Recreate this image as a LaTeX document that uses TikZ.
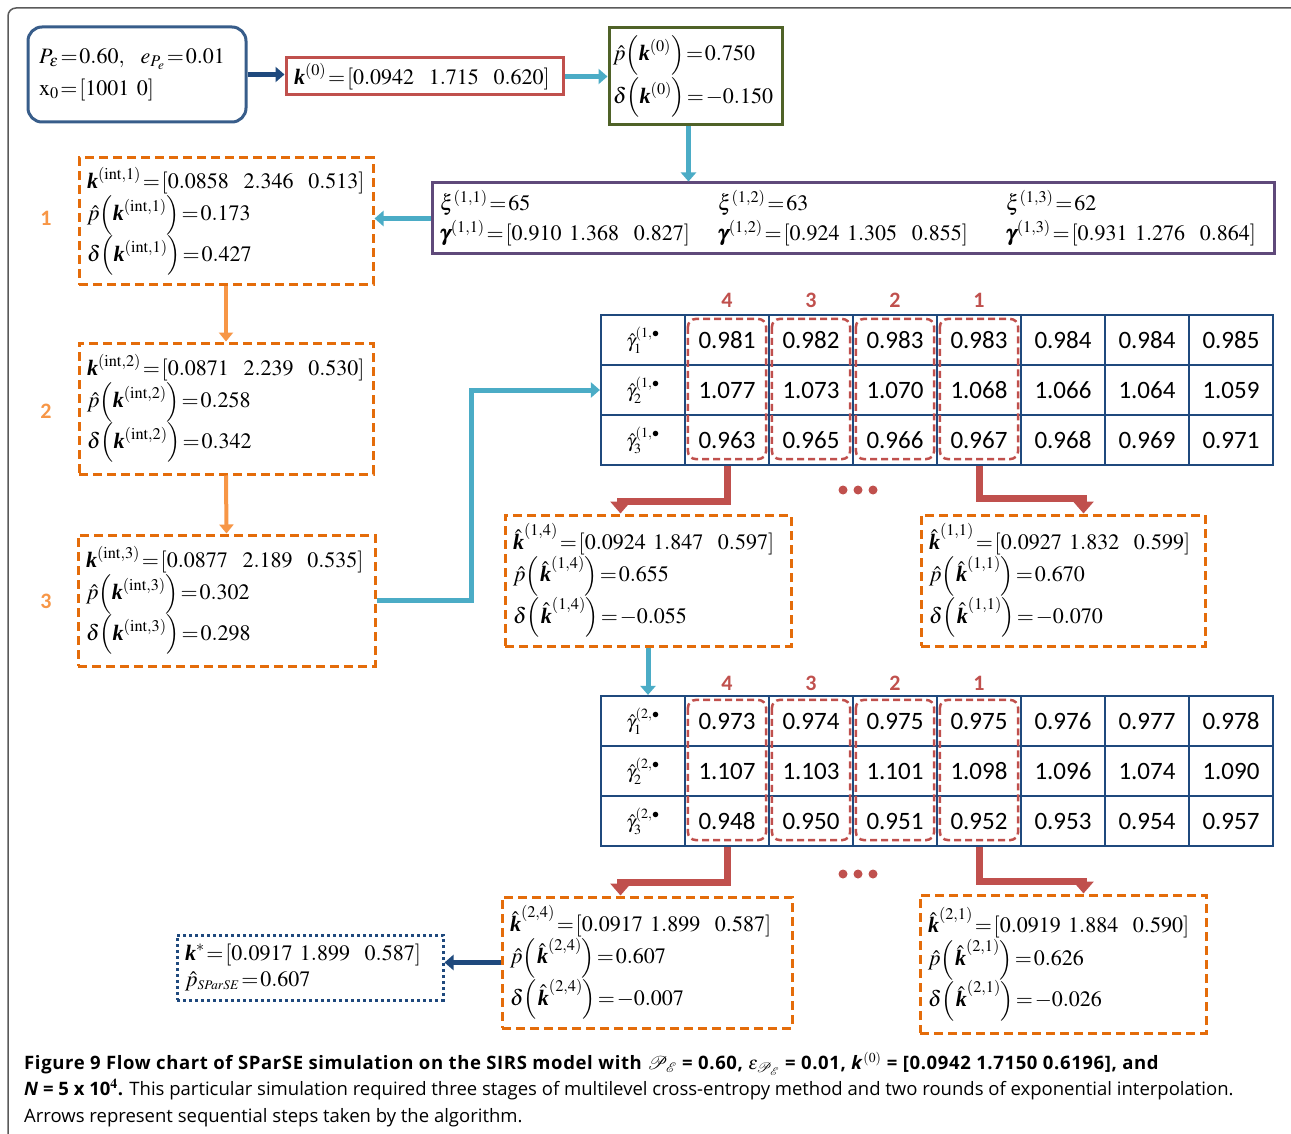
\documentclass[tikz,border=0pt]{standalone}
\usepackage{amsmath}
\usepackage{mathptmx}
\usepackage{fontspec}
\setmainfont{Liberation Serif}
\newfontfamily\tabfont{Carlito}
\newfontfamily\capfont{Open Sans}
\usetikzlibrary{arrows.meta}
\definecolor{dblue}{RGB}{31,73,125}
\definecolor{pblue}{RGB}{56,93,138}
\definecolor{lblue}{RGB}{75,172,198}
\definecolor{redc}{RGB}{192,80,77}
\definecolor{grnc}{RGB}{79,98,40}
\definecolor{purc}{RGB}{95,73,122}
\definecolor{orc}{RGB}{228,108,10}
\definecolor{orarr}{RGB}{247,150,70}
\definecolor{framec}{RGB}{90,90,90}
\newcommand{\bk}{\text{\bfseries\itshape k}}
\newcommand{\bg}{\pmb{\gamma}}
\newcommand{\tightmath}{\thickmuskip=1.5mu\relax\medmuskip=1mu\relax\thinmuskip=1mu\relax}
\begin{document}
\begin{tikzpicture}[x=1pt,y=-1pt,
    txt/.style={font=\fontsize{22}{26}\selectfont,execute at begin node=\tightmath,align=left,inner xsep=8,inner ysep=0},
    obox/.style={txt,draw=orc,line width=3,dash pattern=on 9pt off 5pt},
    cell/.style={draw=dblue,line width=2.2,minimum width=84,minimum height=50,inner sep=0},
    tabnum/.style={font=\tabfont\fontsize{25}{25}\selectfont},
    hdr/.style={text=redc,font=\tabfont\bfseries\fontsize{22}{22}\selectfont,inner sep=0},
    stage/.style={text=orarr,font=\tabfont\bfseries\fontsize{22}{22}\selectfont,inner sep=0},
    seldash/.style={draw=redc,line width=2.5,dash pattern=on 7pt off 4pt,rounded corners=8},
    bluearr/.style={draw=lblue,line width=5,-{Triangle[width=15pt,length=9pt]}},
    darr/.style={draw=dblue,line width=5,-{Triangle[width=15pt,length=9pt]}},
    orarrow/.style={draw=orarr,line width=4,-{Triangle[width=14pt,length=9pt]}},
    redarr/.style={draw=redc,line width=7,-{Triangle[width=20pt,length=12pt]}}]
  \useasboundingbox (0,0) rectangle (1291,1134);
  \draw[framec,line width=1.5,rounded corners=8] (8,1134) -- (8,8) -- (1291,8);

  \path (137,74.5) node[txt,draw=pblue,line width=3,rounded corners=14,minimum width=218,minimum height=95,text width=196,inner xsep=11] (pbox)
    {$P_{\varepsilon}=0.60,\ \ e_{P_e}=0.01$\\[6pt] $\mathrm{x}_0=[1001\ 0]$};
  \path (424.5,76.5) node[txt,draw=redc,line width=3,minimum width=277,minimum height=37,text width=261] (k0)
    {$\bk^{(0)}=[0.0942\ \ 1.715\ \ 0.620]$};
  \path (695.5,76.5) node[txt,draw=grnc,line width=3,minimum width=173,minimum height=97,text width=165,inner xsep=4] (grn)
    {$\hat{p}\Big(\bk^{(0)}\Big)=0.750$\\[2pt] $\delta\Big(\bk^{(0)}\Big)=-0.150$};
  \path (853,218.5) node[txt,draw=purc,line width=3,minimum width=842,minimum height=71,text width=826] (pur)
    {\makebox[278pt][l]{$\xi^{(1,1)}=65$}\makebox[288pt][l]{$\xi^{(1,2)}=63$}$\xi^{(1,3)}=62$\\[4pt]
     \makebox[278pt][l]{$\bg^{(1,1)}=[0.910\ 1.368\ \ 0.827]$}\makebox[288pt][l]{$\bg^{(1,2)}=[0.924\ 1.305\ \ 0.855]$}$\bg^{(1,3)}=[0.931\ 1.276\ \ 0.864]$};

  \path (226,221.5) node[obox,minimum width=294,minimum height=127,text width=278] (int1)
    {$\bk^{(\mathrm{int},1)}=[0.0858\ \ 2.346\ \ 0.513]$\\ $\hat{p}\Big(\bk^{(\mathrm{int},1)}\Big)=0.173$\\ $\delta\Big(\bk^{(\mathrm{int},1)}\Big)=0.427$};
  \path (226,408.5) node[obox,minimum width=294,minimum height=131,text width=278] (int2)
    {$\bk^{(\mathrm{int},2)}=[0.0871\ \ 2.239\ \ 0.530]$\\ $\hat{p}\Big(\bk^{(\mathrm{int},2)}\Big)=0.258$\\ $\delta\Big(\bk^{(\mathrm{int},2)}\Big)=0.342$};
  \path (226.5,600.5) node[obox,minimum width=297,minimum height=131,text width=281] (int3)
    {$\bk^{(\mathrm{int},3)}=[0.0877\ \ 2.189\ \ 0.535]$\\ $\hat{p}\Big(\bk^{(\mathrm{int},3)}\Big)=0.302$\\ $\delta\Big(\bk^{(\mathrm{int},3)}\Big)=0.298$};
  \path (46,218) node[stage] (st1) {1};
  \path (46,411) node[stage] (st2) {2};
  \path (46,601) node[stage] (st3) {3};

  \foreach \r/\ry/\vals in {1/340/{0.981,0.982,0.983,0.983,0.984,0.984,0.985},
                            2/390/{1.077,1.073,1.070,1.068,1.066,1.064,1.059},
                            3/440/{0.963,0.965,0.966,0.967,0.968,0.969,0.971}}{
    \path (643,\ry) node[cell,font=\fontsize{19}{19}\selectfont] (a-\r-0) {$\hat{\gamma}_{\r}^{(1,\bullet}$};
    \foreach \v [count=\c] in \vals
      \path (643+84*\c,\ry) node[cell,tabnum] (a-\r-\c) {\v};
  }
  \foreach \r/\ry/\vals in {1/721/{0.973,0.974,0.975,0.975,0.976,0.977,0.978},
                            2/771/{1.107,1.103,1.101,1.098,1.096,1.074,1.090},
                            3/821/{0.948,0.950,0.951,0.952,0.953,0.954,0.957}}{
    \path (643,\ry) node[cell,font=\fontsize{19}{19}\selectfont] (b-\r-0) {$\hat{\gamma}_{\r}^{(2,\bullet}$};
    \foreach \v [count=\c] in \vals
      \path (643+84*\c,\ry) node[cell,tabnum] (b-\r-\c) {\v};
  }
  \foreach \c/\n in {1/4,2/3,3/2,4/1}{
    \path (643+84*\c,300) node[hdr] (ha-\c) {\n};
    \path (643+84*\c,683) node[hdr] (hb-\c) {\n};
    \draw[seldash] ([xshift=4,yshift=-5]a-1-\c.north west) rectangle ([xshift=-4,yshift=7]a-3-\c.south east);
    \draw[seldash] ([xshift=4,yshift=-5]b-1-\c.north west) rectangle ([xshift=-4,yshift=7]b-3-\c.south east);
  }
  \foreach \dx in {-15,0,15}{
    \fill[redc] (858+\dx,490) circle (4.5);
    \fill[redc] (858+\dx,874) circle (4.5);
  }

  \path (648,580.5) node[obox,minimum width=286,minimum height=131,text width=270] (hk14)
    {$\hat{\bk}^{(1,4)}=[0.0924\ 1.847\ \ 0.597]$\\ $\hat{p}\Big(\,\hat{\bk}^{(1,4)}\Big)=0.655$\\ $\delta\Big(\,\hat{\bk}^{(1,4)}\Big)=-0.055$};
  \path (1063,580.5) node[obox,minimum width=284,minimum height=131,text width=268] (hk11)
    {$\hat{\bk}^{(1,1)}=[0.0927\ 1.832\ \ 0.599]$\\ $\hat{p}\Big(\,\hat{\bk}^{(1,1)}\Big)=0.670$\\ $\delta\Big(\,\hat{\bk}^{(1,1)}\Big)=-0.070$};
  \path (647,962.5) node[obox,minimum width=290,minimum height=131,text width=274] (hk24)
    {$\hat{\bk}^{(2,4)}=[0.0917\ 1.899\ \ 0.587]$\\ $\hat{p}\Big(\,\hat{\bk}^{(2,4)}\Big)=0.607$\\ $\delta\Big(\,\hat{\bk}^{(2,4)}\Big)=-0.007$};
  \path (1063,964) node[obox,minimum width=286,minimum height=138,text width=270] (hk21)
    {$\hat{\bk}^{(2,1)}=[0.0919\ 1.884\ \ 0.590]$\\ $\hat{p}\Big(\,\hat{\bk}^{(2,1)}\Big)=0.626$\\ $\delta\Big(\,\hat{\bk}^{(2,1)}\Big)=-0.026$};
  \path (310,967.5) node[txt,draw=dblue,line width=3,dash pattern=on 3pt off 3pt,minimum width=266,minimum height=65,text width=250] (kstar)
    {$\bk^{*}=[0.0917\ 1.899\ \ 0.587]$\\ $\hat{p}_{\scriptscriptstyle SParSE}=0.607$};

  \draw[darr] (pbox.east) -- (pbox.east -| k0.west);
  \draw[bluearr] (k0.east) -- (k0.east -| grn.west);
  \draw[bluearr] ([xshift=-7]grn.south) -- ([xshift=-7]grn.south |- pur.north);
  \draw[bluearr] (pur.west) -- (pur.west -| int1.east);
  \draw[orarrow] (int1.south) -- (int2.north);
  \draw[orarrow] (int2.south) -- (int3.north);
  \draw[bluearr] (int3.east) -- ++(95,0) |- (a-2-0.west);
  \draw[redarr] (a-3-1.south) -- ++(0,35) -| ([xshift=117]hk14.north west);
  \draw[redarr] (a-3-4.south) -- ++(0,32) -| ([xshift=164]hk11.north west);
  \draw[bluearr] (hk14.south) -- (hk14.south |- b-1-0.north);
  \draw[redarr] (b-3-1.south) -- ++(0,35) -| ([xshift=120]hk24.north west);
  \draw[redarr] (b-3-4.south) -- ++(0,34) -| ([xshift=165]hk21.north west);
  \draw[darr] (hk24.west) -- (hk24.west -| kstar.east);

  \path (24,1052) node[anchor=north west,align=left,inner sep=0,font=\capfont\fontsize{18.5}{26.5}\selectfont] (cap)
    {\textbf{\addfontfeatures{LetterSpace=3.4}Figure 9 Flow chart of SParSE simulation on the SIRS model with $\mathcal{P}_{\mathcal{E}}$ = 0.60, $\epsilon_{\mathcal{P}_{\mathcal{E}}}$ = 0.01, \textit{k}$^{(0)}$ = [0.0942 1.7150 0.6196], and}\\
     \textbf{\textit{N} = 5 x 10$^{\mathbf{4}}$.} This particular simulation required three stages of multilevel cross-entropy method and two rounds of exponential interpolation.\\
     Arrows represent sequential steps taken by the algorithm.};
\end{tikzpicture}
\end{document}
